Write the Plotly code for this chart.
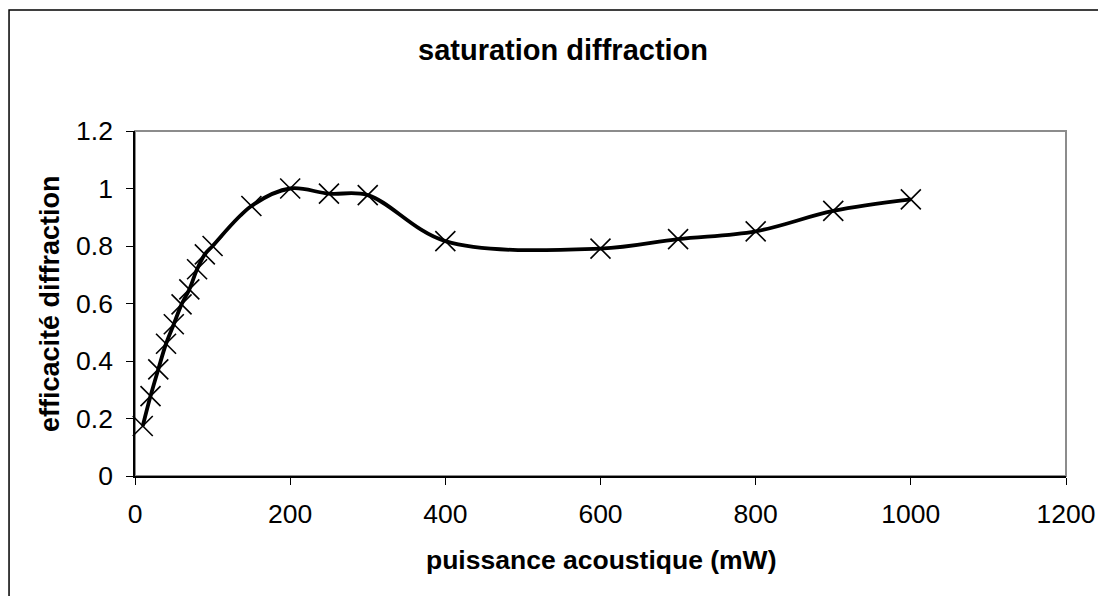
import plotly.graph_objects as go

# puissance acoustique (mW) / efficacité diffraction
puissance = [10, 20, 30, 40, 50, 60, 70, 80, 90, 100, 150, 200,
             250, 300, 400, 600, 700, 800, 900, 1000]
efficacite = [0.174, 0.278, 0.371, 0.46, 0.528, 0.597, 0.649, 0.719, 0.771, 0.80,
              0.939, 1.0, 0.982, 0.977, 0.817, 0.791, 0.824, 0.851, 0.922, 0.962]

x_ticks = [0, 200, 400, 600, 800, 1000, 1200]
y_ticks = [0, 0.2, 0.4, 0.6, 0.8, 1, 1.2]
y_labels = ['0', '0.2', '0.4', '0.6', '0.8', '1', '1.2']

font = 'Liberation Sans, Arial, sans-serif'

fig = go.Figure()
fig.add_trace(go.Scatter(
    x=puissance, y=efficacite, mode='lines+markers',
    line=dict(color='black', width=3.8, shape='spline', smoothing=1),
    marker=dict(symbol='x-thin', size=20, color='black',
                line=dict(color='black', width=1.6)),
    showlegend=False, cliponaxis=False))

# cadre gris de la zone de tracé
fig.add_shape(type='rect', xref='paper', yref='paper', x0=0, x1=1, y0=0, y1=1,
              line=dict(color='#8c8c8c', width=2), layer='below')
# cadre extérieur du graphique
fig.add_shape(type='rect', xref='paper', yref='paper', x0=-0.1353, x1=1.06,
              y0=-0.37, y1=1.3507, line=dict(color='black', width=1.5))

fig.add_annotation(text='<b>puissance acoustique (mW)</b>', xref='paper', yref='paper',
                   x=0.5, y=-0.2435, xanchor='center', yanchor='middle',
                   showarrow=False, font=dict(family=font, size=26.5, color='black'))
fig.add_annotation(text='<b>efficacité diffraction</b>', xref='paper', yref='paper',
                   x=-0.0918, y=0.5, xanchor='center', yanchor='middle', textangle=-90,
                   showarrow=False, font=dict(family=font, size=27, color='black'))

# la page ajoute une marge de 8 px : la figure est réduite d'autant
fig.update_layout(
    width=1098, height=588,
    margin=dict(l=127, r=40, t=123, b=120),
    paper_bgcolor='white', plot_bgcolor='white',
    font=dict(family=font, color='black'),
    title=dict(text='<b>saturation diffraction</b>', xref='container', yref='container',
               x=0.5055, y=1 - 42 / 588, xanchor='center', yanchor='middle',
               font=dict(family=font, size=29, color='black')),
    xaxis=dict(range=[0, 1200], tickvals=x_ticks, ticks='outside', ticklen=7,
               tickwidth=1.2, tickcolor='black', showline=True, linecolor='black',
               linewidth=1.5, showgrid=False, zeroline=False,
               tickfont=dict(family=font, size=26.5, color='black'),
               ticklabelstandoff=6),
    yaxis=dict(range=[0, 1.2], tickvals=y_ticks, ticktext=y_labels, ticks='outside',
               ticklen=7, tickwidth=1.2, tickcolor='black', showline=True,
               linecolor='black', linewidth=1.5, showgrid=False, zeroline=False,
               tickfont=dict(family=font, size=26.5, color='black'),
               ticklabelstandoff=8),
)

fig.write_html('out.html')
